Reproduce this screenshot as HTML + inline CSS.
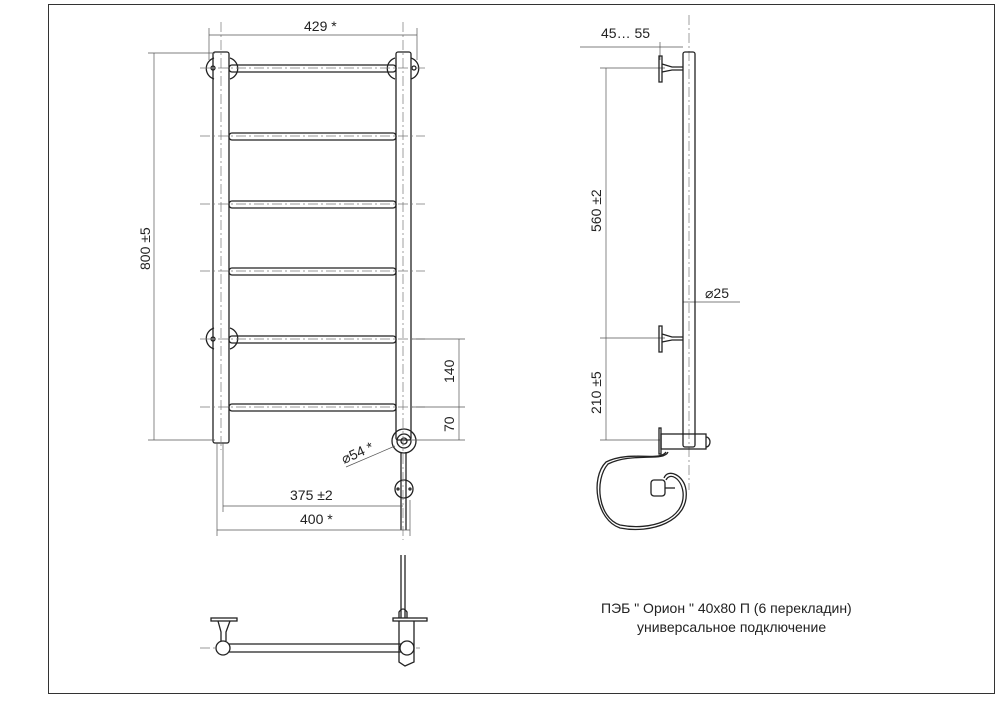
<!DOCTYPE html>
<html><head><meta charset="utf-8"><style>
html,body{margin:0;padding:0;background:#fff;}
svg{display:block;}
text{font-family:"Liberation Sans Narrow","Liberation Sans",sans-serif;fill:#222;font-size:14px;}
</style></head><body>
<svg width="1000" height="708" viewBox="0 0 1000 708" xmlns="http://www.w3.org/2000/svg">
<rect x="48.5" y="4.5" width="946" height="689" fill="none" stroke="#333" stroke-width="1"/>
<g stroke="#222" fill="none" stroke-width="1.3">
<rect x="213" y="52" width="16" height="391" rx="2"/>
<rect x="396" y="52" width="15" height="388" rx="2"/>
<rect x="229" y="65" width="167" height="7" rx="3"/>
<rect x="229" y="133" width="167" height="7" rx="3"/>
<rect x="229" y="201" width="167" height="7" rx="3"/>
<rect x="229" y="268" width="167" height="7" rx="3"/>
<rect x="229" y="336" width="167" height="7" rx="3"/>
<rect x="229" y="404" width="167" height="7" rx="3"/>
<path d="M214 58 A11 11 0 0 0 214 79"/><path d="M230 58 A11 11 0 0 1 230 79"/>
<path d="M395 58 A11 11 0 0 0 395 79"/><path d="M411 58 A11 11 0 0 1 411 79"/>
<path d="M214 328 A11 11 0 0 0 214 349"/><path d="M230 328 A11 11 0 0 1 230 349"/>
<circle cx="213" cy="68" r="2"/><circle cx="414" cy="68" r="2"/><circle cx="213" cy="339" r="2"/>
<circle cx="404" cy="441" r="12"/><circle cx="404" cy="441" r="7"/><circle cx="404" cy="441" r="3"/>
<circle cx="404" cy="489" r="9" fill="#fff"/>
<line x1="401" y1="452" x2="401" y2="530"/><line x1="406" y1="452" x2="406" y2="530"/>
<circle cx="398" cy="489" r="1"/><circle cx="410" cy="489" r="1"/>
</g>
<g stroke="#777" stroke-width="0.7" stroke-dasharray="10,3,2,3" fill="none">
<line x1="200" y1="68" x2="425" y2="68"/><line x1="200" y1="136" x2="425" y2="136"/>
<line x1="200" y1="204" x2="425" y2="204"/><line x1="200" y1="271" x2="425" y2="271"/>
<line x1="200" y1="339" x2="425" y2="339"/><line x1="200" y1="407" x2="425" y2="407"/>
<line x1="221" y1="22" x2="221" y2="450"/><line x1="403" y1="22" x2="403" y2="540"/>
<line x1="689" y1="15" x2="689" y2="490"/>
<line x1="200" y1="648" x2="420" y2="648"/>
</g>
<g stroke="#555" stroke-width="0.7" fill="none">
<line x1="209" y1="35" x2="417" y2="35"/><line x1="209" y1="28" x2="209" y2="60"/><line x1="417" y1="28" x2="417" y2="60"/>
<line x1="154" y1="53" x2="154" y2="440"/><line x1="148" y1="53" x2="215" y2="53"/><line x1="148" y1="440" x2="215" y2="440"/>
<line x1="459" y1="339" x2="459" y2="440"/><line x1="412" y1="440" x2="465" y2="440"/><line x1="412" y1="407" x2="465" y2="407"/><line x1="412" y1="339" x2="465" y2="339"/>
<line x1="223" y1="506" x2="403" y2="506"/><line x1="223" y1="443" x2="223" y2="512"/>
<line x1="217" y1="530" x2="410" y2="530"/><line x1="217" y1="443" x2="217" y2="536"/><line x1="410" y1="500" x2="410" y2="536"/>
<line x1="346" y1="467" x2="395" y2="446"/>
<line x1="580" y1="47" x2="683" y2="47"/><line x1="660" y1="42" x2="660" y2="60"/>
<line x1="606" y1="68" x2="606" y2="440"/><line x1="600" y1="68" x2="665" y2="68"/><line x1="600" y1="338" x2="665" y2="338"/><line x1="600" y1="440" x2="660" y2="440"/>
<line x1="683" y1="302" x2="740" y2="302"/>
</g>
<g fill="#333" font-size="14">
<text x="304" y="31">429 *</text>
<text transform="translate(150 270) rotate(-90)">800 ±5</text>
<text transform="translate(454 383) rotate(-90)">140</text>
<text transform="translate(454 432) rotate(-90)">70</text>
<text x="290" y="500">375  ±2</text>
<text x="300" y="524">400 *</text>
<text transform="translate(344 464) rotate(-24)">⌀54 *</text>
<text x="601" y="38">45… 55</text>
<text transform="translate(601 232) rotate(-90)">560 ±2</text>
<text transform="translate(601 414) rotate(-90)">210 ±5</text>
<text x="705" y="298">⌀25</text>
<text x="601" y="613" font-size="13">ПЭБ " Орион " 40х80 П (6 перекладин)</text>
<text x="637" y="632" font-size="13">универсальное подключение</text>
</g>
<g stroke="#222" fill="none" stroke-width="1.3">
<rect x="683" y="52" width="12" height="395" rx="2"/>
<path d="M659 56 L662 56 L662 82 L659 82 Z"/><path d="M662 64 L672 67 L683 67 M662 72 L672 70 L683 70"/>
<path d="M659 326 L662 326 L662 352 L659 352 Z"/><path d="M662 334 L672 337 L683 337 M662 342 L672 340 L683 340"/>
<rect x="659" y="428" width="2" height="26"/><rect x="661" y="434" width="45" height="15"/>
<path d="M706 437 a4 5 0 0 1 0 10"/>
<path d="M666 452 C660 462 630 450 606 462 C590 478 596 520 620 528 C650 534 690 522 686 490 C684 475 668 468 664 478"/>
<path d="M668 452 C664 462 632 452 608 464 C594 480 598 518 620 525 C650 531 686 520 683 492 C681 478 670 472 666 480"/>
<rect x="651" y="480" width="14" height="16" rx="3"/><line x1="665" y1="488" x2="675" y2="488"/>
</g>
<g stroke="#222" fill="none" stroke-width="1.3">
<rect x="222" y="644" width="183" height="8" rx="3" fill="#fff"/>
<circle cx="223" cy="648" r="7" fill="#fff"/><circle cx="407" cy="648" r="7" fill="#fff"/>
<rect x="211" y="618" width="26" height="3"/><path d="M218 621 L221 632 L221 641 M230 621 L226 632 L226 641"/>
<rect x="393" y="618" width="34" height="3"/><path d="M399 621 L399 662 L405 666 L414 662 L414 621"/>
<line x1="401" y1="555" x2="401" y2="618"/><line x1="405" y1="555" x2="405" y2="618"/>
<path d="M399 618 L399 612 Q403 606 407 612 L407 618"/>
</g>
</svg>
</body></html>
